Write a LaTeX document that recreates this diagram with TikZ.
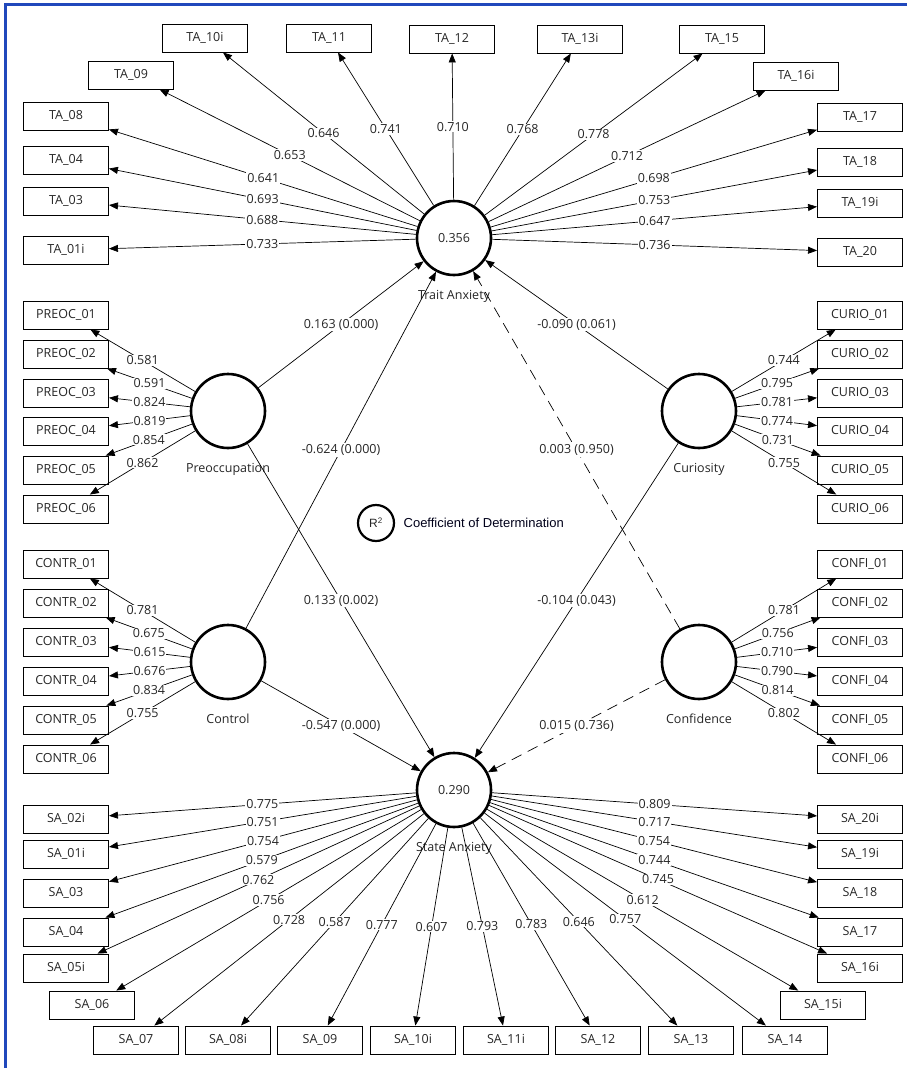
\documentclass[tikz,border=0pt]{standalone}
\usepackage{fontspec}
\setmainfont{Open Sans}
\newfontfamily\legendfont{Liberation Sans}
\usetikzlibrary{arrows.meta, positioning}
\definecolor{frameblue}{RGB}{32,72,188}

\begin{document}
\begin{tikzpicture}[x=1pt, y=-1pt, >={Triangle[length=9pt, width=7pt]},
        every node/.style={font=\fontsize{12.5}{14}\selectfont, text=black!85},
        latent/.style={circle, draw, line width=2.6pt, minimum size=74pt, inner sep=0pt},
        indicator/.style={rectangle, draw, line width=0.9pt, minimum width=85pt, minimum height=28pt},
        loading/.style={fill=white, inner sep=1pt},
        insig/.style={dash pattern=on 11pt off 7pt}]
        \useasboundingbox (0,0) rectangle (907,1068);
        \draw[frameblue, line width=3pt] (5.5,1068) -- (5.5,4) -- (907,4);

        % latent variables
        \node[latent, label={[label distance=10pt]below:Trait Anxiety}] (ta)    at (454,238) {0.356};
        \node[latent, label={[label distance=10pt]below:State Anxiety}] (sa)    at (454,790) {0.290};
        \node[latent, label={[label distance=10pt]below:Preoccupation}] (preoc) at (228,411) {};
        \node[latent, label={[label distance=10pt]below:Control}]       (contr) at (228,662) {};
        \node[latent, label={[label distance=10pt]below:Curiosity}]     (curio) at (699,411) {};
        \node[latent, label={[label distance=10pt]below:Confidence}]    (confi) at (699,662) {};

        % legend
        \node[latent, line width=2.2pt, minimum size=36pt, font=\legendfont\fontsize{12}{14}\selectfont] (r2) at (376,523) {R\textsuperscript{2}};
        \node[right=5pt of r2, font=\legendfont\fontsize{13}{15}\selectfont, text=black!90!blue] (r2_text) {Coefficient of Determination};

        % trait anxiety items
        \node[indicator] (ta_10i) at (205,38)  {TA\_10i};
        \node[indicator] (ta_11)  at (329,38)  {TA\_11};
        \node[indicator] (ta_12)  at (452,39)  {TA\_12};
        \node[indicator] (ta_13i) at (580,39)  {TA\_13i};
        \node[indicator] (ta_15)  at (722,39)  {TA\_15};
        \node[indicator] (ta_09)  at (131,75)  {TA\_09};
        \node[indicator] (ta_16i) at (796,76)  {TA\_16i};
        \node[indicator] (ta_08)  at (66,116)  {TA\_08};
        \node[indicator] (ta_04)  at (66,160)  {TA\_04};
        \node[indicator] (ta_03)  at (66,201)  {TA\_03};
        \node[indicator] (ta_01i) at (66,250)  {TA\_01i};
        \node[indicator] (ta_17)  at (860,117) {TA\_17};
        \node[indicator] (ta_18)  at (860,162) {TA\_18};
        \node[indicator] (ta_19i) at (860,203) {TA\_19i};
        \node[indicator] (ta_20)  at (860,252) {TA\_20};

        % preoccupation and curiosity items
        \node[indicator] (preoc_01) at (66,315)  {PREOC\_01};
        \node[indicator] (preoc_02) at (66,354)  {PREOC\_02};
        \node[indicator] (preoc_03) at (66,393)  {PREOC\_03};
        \node[indicator] (preoc_04) at (66,431)  {PREOC\_04};
        \node[indicator] (preoc_05) at (66,470)  {PREOC\_05};
        \node[indicator] (preoc_06) at (66,509)  {PREOC\_06};
        \node[indicator] (curio_01) at (860,315) {CURIO\_01};
        \node[indicator] (curio_02) at (860,354) {CURIO\_02};
        \node[indicator] (curio_03) at (860,393) {CURIO\_03};
        \node[indicator] (curio_04) at (860,431) {CURIO\_04};
        \node[indicator] (curio_05) at (860,470) {CURIO\_05};
        \node[indicator] (curio_06) at (860,509) {CURIO\_06};

        % control and confidence items
        \node[indicator] (contr_01) at (66,564)  {CONTR\_01};
        \node[indicator] (contr_02) at (66,603)  {CONTR\_02};
        \node[indicator] (contr_03) at (66,642)  {CONTR\_03};
        \node[indicator] (contr_04) at (66,681)  {CONTR\_04};
        \node[indicator] (contr_05) at (66,720)  {CONTR\_05};
        \node[indicator] (contr_06) at (66,759)  {CONTR\_06};
        \node[indicator] (confi_01) at (860,564) {CONFI\_01};
        \node[indicator] (confi_02) at (860,603) {CONFI\_02};
        \node[indicator] (confi_03) at (860,642) {CONFI\_03};
        \node[indicator] (confi_04) at (860,681) {CONFI\_04};
        \node[indicator] (confi_05) at (860,720) {CONFI\_05};
        \node[indicator] (confi_06) at (860,759) {CONFI\_06};

        % state anxiety items
        \node[indicator] (sa_02i) at (66,819)   {SA\_02i};
        \node[indicator] (sa_01i) at (66,854)   {SA\_01i};
        \node[indicator] (sa_03)  at (66,893)   {SA\_03};
        \node[indicator] (sa_04)  at (66,932)   {SA\_04};
        \node[indicator] (sa_05i) at (66,968)   {SA\_05i};
        \node[indicator] (sa_06)  at (92,1005)  {SA\_06};
        \node[indicator] (sa_07)  at (136,1040) {SA\_07};
        \node[indicator] (sa_08i) at (228,1040) {SA\_08i};
        \node[indicator] (sa_09)  at (320,1040) {SA\_09};
        \node[indicator] (sa_10i) at (413,1040) {SA\_10i};
        \node[indicator] (sa_11i) at (506,1040) {SA\_11i};
        \node[indicator] (sa_12)  at (598,1040) {SA\_12};
        \node[indicator] (sa_13)  at (691,1040) {SA\_13};
        \node[indicator] (sa_14)  at (785,1040) {SA\_14};
        \node[indicator] (sa_15i) at (823,1005) {SA\_15i};
        \node[indicator] (sa_16i) at (860,968)  {SA\_16i};
        \node[indicator] (sa_17)  at (860,932)  {SA\_17};
        \node[indicator] (sa_18)  at (860,893)  {SA\_18};
        \node[indicator] (sa_19i) at (860,854)  {SA\_19i};
        \node[indicator] (sa_20i) at (860,819)  {SA\_20i};

        % outer loadings
        \path[->, line width=0.7pt]
          (ta) edge node[loading] {0.733} (ta_01i)
               edge node[loading] {0.688} (ta_03)
               edge node[loading] {0.693} (ta_04)
               edge node[loading] {0.641} (ta_08)
               edge node[loading] {0.653} (ta_09)
               edge node[loading] {0.646} (ta_10i)
               edge node[loading] {0.741} (ta_11)
               edge node[loading] {0.710} (ta_12)
               edge node[loading] {0.768} (ta_13i)
               edge node[loading] {0.778} (ta_15)
               edge node[loading] {0.712} (ta_16i)
               edge node[loading] {0.698} (ta_17)
               edge node[loading] {0.753} (ta_18)
               edge node[loading] {0.647} (ta_19i)
               edge node[loading] {0.736} (ta_20)
          (preoc) edge node[loading] {0.581} (preoc_01)
                  edge node[loading] {0.591} (preoc_02)
                  edge node[loading] {0.824} (preoc_03)
                  edge node[loading] {0.819} (preoc_04)
                  edge node[loading] {0.854} (preoc_05)
                  edge node[loading] {0.862} (preoc_06)
          (curio) edge node[loading] {0.744} (curio_01)
                  edge node[loading] {0.795} (curio_02)
                  edge node[loading] {0.781} (curio_03)
                  edge node[loading] {0.774} (curio_04)
                  edge node[loading] {0.731} (curio_05)
                  edge node[loading] {0.755} (curio_06)
          (contr) edge node[loading] {0.781} (contr_01)
                  edge node[loading] {0.675} (contr_02)
                  edge node[loading] {0.615} (contr_03)
                  edge node[loading] {0.676} (contr_04)
                  edge node[loading] {0.834} (contr_05)
                  edge node[loading] {0.755} (contr_06)
          (confi) edge node[loading] {0.781} (confi_01)
                  edge node[loading] {0.756} (confi_02)
                  edge node[loading] {0.710} (confi_03)
                  edge node[loading] {0.790} (confi_04)
                  edge node[loading] {0.814} (confi_05)
                  edge node[loading] {0.802} (confi_06)
          (sa) edge node[loading] {0.775} (sa_02i)
               edge node[loading] {0.751} (sa_01i)
               edge node[loading] {0.754} (sa_03)
               edge node[loading] {0.579} (sa_04)
               edge node[loading] {0.762} (sa_05i)
               edge node[loading] {0.756} (sa_06)
               edge node[loading] {0.728} (sa_07)
               edge node[loading] {0.587} (sa_08i)
               edge node[loading] {0.777} (sa_09)
               edge node[loading] {0.607} (sa_10i)
               edge node[loading] {0.793} (sa_11i)
               edge node[loading] {0.783} (sa_12)
               edge node[loading] {0.646} (sa_13)
               edge node[loading] {0.757} (sa_14)
               edge node[loading] {0.612} (sa_15i)
               edge node[loading] {0.745} (sa_16i)
               edge node[loading] {0.744} (sa_17)
               edge node[loading] {0.754} (sa_18)
               edge node[loading] {0.717} (sa_19i)
               edge node[loading] {0.809} (sa_20i);

        % path coefficients (p-values)
        \path[->, line width=0.7pt]
          (preoc) edge node[loading] {0.163 (0.000)} (ta)
                  edge node[loading] {0.133 (0.002)} (sa)
          (contr) edge node[loading] {-0.624 (0.000)} (ta)
                  edge node[loading] {-0.547 (0.000)} (sa)
          (curio) edge node[loading] {-0.090 (0.061)} (ta)
                  edge node[loading] {-0.104 (0.043)} (sa)
          (confi) edge[insig] node[loading] {0.003 (0.950)} (ta)
                  edge[insig] node[loading] {0.015 (0.736)} (sa);
      \end{tikzpicture}
\end{document}
